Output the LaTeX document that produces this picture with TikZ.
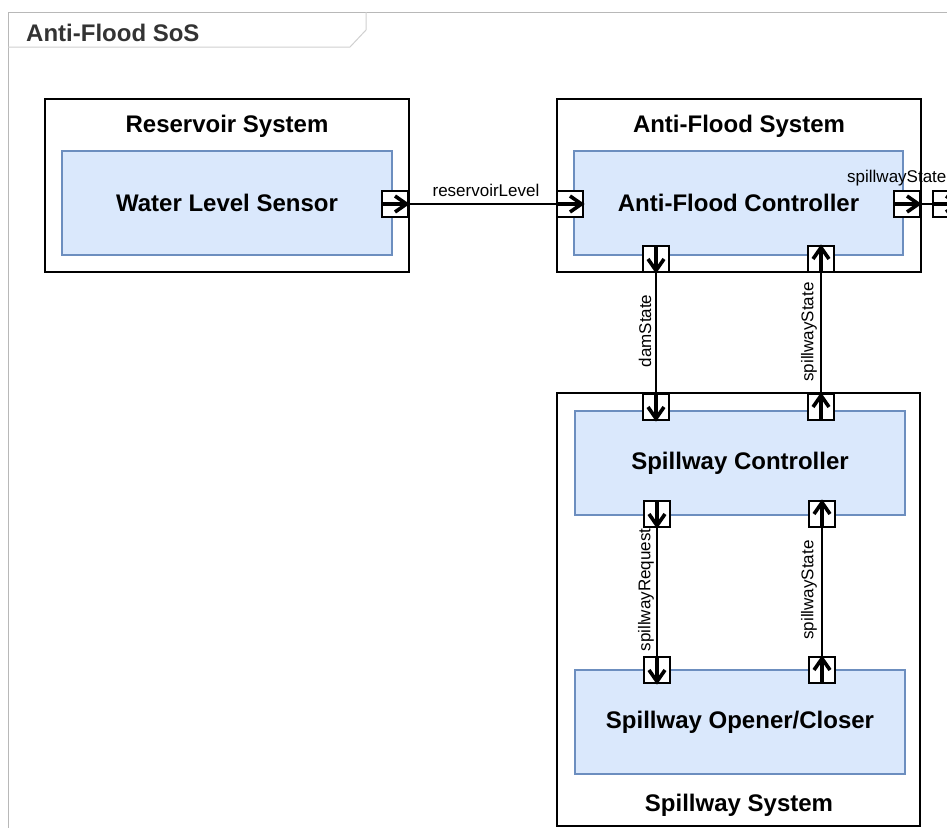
\documentclass[tikz,border=0pt]{standalone}
\usepackage{fontspec}
\setmainfont{Liberation Sans}
\definecolor{blockfill}{HTML}{DAE8FC}
\definecolor{blockline}{HTML}{6C8EBF}
\definecolor{framegray}{HTML}{B8B8B8}
\definecolor{tabgray}{HTML}{D0D0D0}
\definecolor{headtext}{HTML}{333333}

% flow-direction marks drawn inside a port node
\newcommand{\flowmarkright}[1]{%
  \draw[portmark] (#1.west) -- (#1.east)
    ([xshift=-13pt,yshift=8pt]#1.east) -- ([xshift=-1.5pt]#1.east) -- ([xshift=-13pt,yshift=-8pt]#1.east);}
\newcommand{\flowmarkdown}[1]{%
  \draw[portmark] (#1.north) -- (#1.south)
    ([xshift=-8pt,yshift=13pt]#1.south) -- ([yshift=1.5pt]#1.south) -- ([xshift=8pt,yshift=13pt]#1.south);}
\newcommand{\flowmarkup}[1]{%
  \draw[portmark] (#1.south) -- (#1.north)
    ([xshift=-8pt,yshift=-13pt]#1.north) -- ([yshift=-1.5pt]#1.north) -- ([xshift=8pt,yshift=-13pt]#1.north);}

\begin{document}
\begin{tikzpicture}[x=1pt,y=-1pt,
  system/.style={draw=black,line width=1.6pt,fill=white,inner sep=0pt,outer sep=0pt},
  block/.style={draw=blockline,line width=1.3pt,fill=blockfill,inner sep=0pt,outer sep=0pt,
    minimum width=330pt,minimum height=104pt,
    font=\fontsize{24}{28}\selectfont\bfseries},
  title/.style={inner sep=0pt,font=\fontsize{24}{28}\selectfont\bfseries},
  port/.style={draw=black,line width=1.5pt,fill=white,minimum size=26pt,inner sep=0pt,outer sep=0pt},
  portmark/.style={line width=3.6pt,line join=miter,miter limit=10},
  flow/.style={line width=1.4pt},
  flowlabel/.style={inner sep=0pt,font=\fontsize{17}{20}\selectfont}]

\useasboundingbox (0,0) rectangle (947,828);

% enclosing SoS frame with its name tab
\draw[framegray,line width=1pt] (947,12) -- (8,12) -- (8,828);
\draw[tabgray,line width=1pt] (8,47) -- (350,47) -- (366,30) -- (366,12);
\node[anchor=west,inner sep=0pt,text=headtext,font=\fontsize{24}{28}\selectfont\bfseries] (sosname) at (26,33) {Anti-Flood SoS};

% constituent systems
\node[system,minimum width=364pt,minimum height=173pt] (ressys) at (227,185.5) {};
\node[system,minimum width=364pt,minimum height=173pt] (afsys) at (739,185.5) {};
\node[system,minimum width=363pt,minimum height=433pt] (spsys) at (738.5,609.5) {};

\node[title] (ressysname) at (227,126) {Reservoir System};
\node[title] (afsysname) at (739,126) {Anti-Flood System};
\node[title] (spsysname) at (739,805) {Spillway System};

% components
\node[block] (sensor) at (227,203) {Water Level Sensor};
\node[block,minimum width=329pt] (afctrl) at (738.5,203) {Anti-Flood Controller};
\node[block] (spctrl) at (740,463) {Spillway Controller};
\node[block] (opener) at (740,722) {Spillway Opener/Closer};

% ports
\node[port] (sensorOut) at (395,204) {};
\node[port] (afIn) at (570,204) {};
\node[port] (afOut) at (907,204) {};
\node[port] (sosOut) at (946,204) {};
\node[port] (afDam) at (656,259) {};
\node[port] (afSpill) at (821,259) {};
\node[port] (scDam) at (656,407) {};
\node[port] (scSpill) at (821,407) {};
\node[port] (scReq) at (657,514) {};
\node[port] (scState) at (822,514) {};
\node[port] (opReq) at (657,670) {};
\node[port] (opState) at (822,670) {};

% direction marks inside the ports
\flowmarkright{sensorOut}
\flowmarkright{afIn}
\flowmarkright{afOut}
\flowmarkright{sosOut}
\flowmarkdown{afDam}
\flowmarkdown{scDam}
\flowmarkup{scSpill}
\flowmarkup{afSpill}
\flowmarkdown{scReq}
\flowmarkdown{opReq}
\flowmarkup{opState}
\flowmarkup{scState}

% item flows
\draw[flow] (sensorOut.east) -- (afIn.west);
\draw[flow] (afOut.east) -- (sosOut.west);
\draw[flow] (afDam.south) -- (scDam.north);
\draw[flow] (scSpill.north) -- (afSpill.south);
\draw[flow] (scReq.south) -- (opReq.north);
\draw[flow] (opState.north) -- (scState.south);

% flow labels
\node[flowlabel] (lblLevel) at (486,190) {reservoirLevel};
\node[flowlabel,anchor=west] (lblOut) at (847,178) {spillwayState};
\node[flowlabel,rotate=90] (lblDam) at (645,331) {damState};
\node[flowlabel,rotate=90] (lblSpillA) at (809,332) {spillwayState};
\node[flowlabel,rotate=90] (lblReq) at (646,590) {spillwayRequest};
\node[flowlabel,rotate=90] (lblSpillB) at (809,590) {spillwayState};

\end{tikzpicture}
\end{document}
